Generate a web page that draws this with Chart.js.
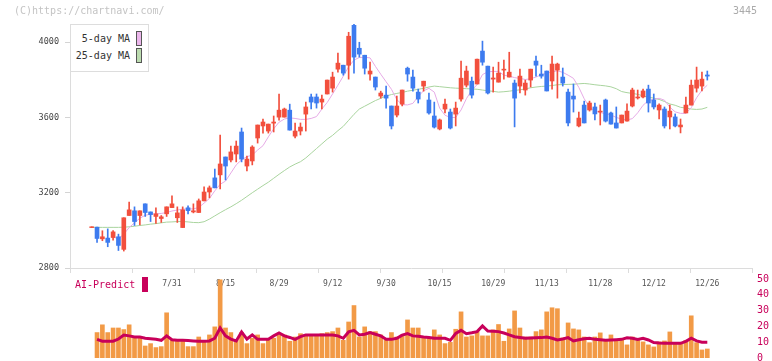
<!DOCTYPE html>
<html>
<head>
<meta charset="utf-8">
<title>3445</title>
<script src="https://cdn.jsdelivr.net/npm/chart.js@4.4.1/dist/chart.umd.min.js"></script>
<style>
    body { margin: 0; width: 772px; height: 361px; overflow: hidden; background: #fff; position: relative; font-family: 'DejaVu Sans Mono', monospace; }
    #priceChart { position: absolute; left: 0; top: 0; }
    #predictChart { position: absolute; left: 0; top: 268px; }
    .copyright { position: absolute; left: 14px; top: 5px; font-size: 10px; line-height: 12px; color: #c4c4c4; }
    .code { position: absolute; left: 733px; top: 5px; font-size: 10px; line-height: 12px; color: #aaa; }
    .legend { position: absolute; left: 70px; top: 24px; width: 77px; height: 46px; border: 1px solid #ddd; background: #fff; font-size: 10px; line-height: 12px; color: #333; }
    .legend .txt { position: absolute; left: 0; width: 59px; text-align: right; }
    .legend .box { position: absolute; left: 65px; width: 4px; height: 13px; border: 1px solid #555; }
    .ai-label { position: absolute; left: 75px; top: 279px; font-size: 10px; line-height: 12px; color: #c8005a; }
    .ai-box { position: absolute; left: 142px; top: 277px; width: 6px; height: 15px; background: #c8005a; }
</style>
</head>
<body>
<canvas id="priceChart" width="772" height="300"></canvas>
<canvas id="predictChart" width="772" height="101"></canvas>
<div class="copyright">(C)https://chartnavi.com/</div>
<div class="code">3445</div>
<div class="legend">
    <div class="txt" style="top:8px">5-day MA</div><div class="box" style="top:6px;background:#ebb6eb"></div>
    <div class="txt" style="top:25px">25-day MA</div><div class="box" style="top:23px;background:#bcdcb0"></div>
</div>
<div class="ai-label">AI-Predict</div>
<div class="ai-box"></div>

<script>
// date labels sit on every 10th candle
const dateLabels = ['7/31', '8/15', '8/29', '9/12', '9/30', '10/15', '10/29', '11/13', '11/28', '12/12', '12/26'];
const dateIndex = [15, 25, 35, 45, 55, 65, 75, 85, 95, 105, 115];

const opens = [
    3015, 3017, 2955, 2959, 2962, 2966, 2899, 3079, 3104, 3079,
    3141, 3098, 3074, 3063, 3088, 3121, 3067, 3015, 3120, 3098,
    3095, 3157, 3204, 3279, 3295, 3390, 3374, 3406, 3523, 3342,
    3369, 3491, 3555, 3528, 3570, 3602, 3602, 3639, 3501, 3528,
    3618, 3709, 3709, 3682, 3725, 3756, 3857, 3878, 3878, 4090,
    3968, 3931, 3831, 3815, 3714, 3719, 3661, 3613, 3671, 3862,
    3815, 3735, 3767, 3693, 3608, 3539, 3645, 3629, 3618, 3698,
    3772, 3793, 3778, 3953, 3873, 3804, 3788, 3852, 3815, 3783,
    3767, 3746, 3799, 3900, 3831, 3847, 3794, 3852, 3815, 3735,
    3714, 3555, 3666, 3640, 3656, 3629, 3693, 3624, 3571, 3571,
    3581, 3661, 3704, 3709, 3751, 3693, 3640, 3645, 3603, 3603,
    3550, 3624, 3666, 3756, 3767, 3826
];
const highs = [
    3019, 3017, 2998, 3008, 2999, 2980, 3067, 3151, 3125, 3104,
    3141, 3098, 3120, 3079, 3125, 3183, 3125, 3125, 3130, 3141,
    3167, 3231, 3236, 3326, 3507, 3390, 3448, 3475, 3544, 3395,
    3450, 3560, 3592, 3565, 3608, 3724, 3650, 3671, 3570, 3571,
    3682, 3725, 3725, 3719, 3799, 3841, 3942, 3878, 4053, 4096,
    4000, 3931, 3894, 3815, 3740, 3767, 3661, 3714, 3746, 3868,
    3852, 3751, 3793, 3730, 3682, 3592, 3698, 3645, 3682, 3900,
    3873, 3815, 3910, 4006, 3873, 3868, 3894, 3905, 3947, 3799,
    3857, 3799, 3857, 3926, 3878, 3847, 3926, 3889, 3863, 3751,
    3778, 3629, 3687, 3687, 3677, 3666, 3698, 3629, 3656, 3613,
    3672, 3756, 3746, 3751, 3772, 3725, 3672, 3656, 3666, 3619,
    3592, 3709, 3799, 3868, 3841, 3847
];
const lows = [
    3015, 2936, 2945, 2913, 2948, 2893, 2890, 3079, 3026, 3029,
    3074, 3047, 3037, 3042, 3074, 3121, 3042, 3015, 3088, 3093,
    3095, 3157, 3173, 3226, 3220, 3268, 3364, 3364, 3364, 3316,
    3348, 3464, 3517, 3517, 3523, 3586, 3602, 3533, 3491, 3507,
    3528, 3645, 3650, 3645, 3725, 3735, 3841, 3825, 3804, 3836,
    3921, 3831, 3799, 3746, 3703, 3650, 3539, 3603, 3661, 3793,
    3740, 3677, 3740, 3618, 3544, 3534, 3624, 3539, 3555, 3687,
    3762, 3703, 3778, 3878, 3725, 3735, 3788, 3804, 3815, 3550,
    3730, 3719, 3762, 3820, 3809, 3741, 3751, 3703, 3767, 3555,
    3629, 3550, 3571, 3634, 3587, 3560, 3576, 3565, 3544, 3571,
    3581, 3656, 3698, 3704, 3629, 3645, 3592, 3544, 3539, 3550,
    3518, 3624, 3666, 3735, 3741, 3799
];
const closes = [
    3019, 2957, 2966, 2936, 2992, 2920, 3067, 3109, 3047, 3104,
    3095, 3084, 3088, 3072, 3125, 3141, 3093, 3109, 3105, 3104,
    3157, 3204, 3226, 3226, 3353, 3342, 3417, 3448, 3379, 3379,
    3443, 3560, 3576, 3565, 3576, 3639, 3645, 3533, 3528, 3549,
    3656, 3682, 3677, 3698, 3799, 3815, 3889, 3836, 4032, 3921,
    3937, 3862, 3847, 3762, 3730, 3703, 3555, 3661, 3746, 3831,
    3756, 3698, 3793, 3624, 3549, 3587, 3671, 3544, 3650, 3809,
    3847, 3719, 3910, 3894, 3730, 3810, 3836, 3857, 3841, 3703,
    3820, 3783, 3857, 3878, 3820, 3741, 3884, 3884, 3783, 3571,
    3698, 3597, 3571, 3677, 3619, 3634, 3581, 3565, 3544, 3613,
    3634, 3746, 3709, 3741, 3677, 3656, 3666, 3555, 3634, 3555,
    3560, 3666, 3772, 3799, 3804, 3820
];
const ma5 = [
    null, null, null, null, 2965, 2955, 2980, 3015, 3040, 3065,
    3080, 3086, 3088, 3090, 3095, 3103, 3108, 3113, 3114, 3114,
    3122, 3145, 3170, 3210, 3245, 3262, 3305, 3348, 3375, 3392,
    3400, 3427, 3450, 3497, 3540, 3575, 3592, 3598, 3595, 3590,
    3590, 3595, 3605, 3645, 3680, 3725, 3772, 3820, 3870, 3905,
    3919, 3920, 3917, 3872, 3830, 3790, 3750, 3695, 3668, 3667,
    3675, 3712, 3742, 3755, 3735, 3650, 3612, 3600, 3600, 3640,
    3700, 3745, 3775, 3828, 3843, 3845, 3845, 3825, 3820, 3812,
    3808, 3802, 3806, 3815, 3828, 3834, 3843, 3848, 3840, 3825,
    3808, 3760, 3700, 3655, 3635, 3626, 3620, 3614, 3600, 3592,
    3587, 3594, 3625, 3665, 3690, 3696, 3702, 3692, 3655, 3630,
    3622, 3622, 3652, 3705, 3745, 3772
];
const ma25 = [
    3017, 3016, 3016, 3016, 3016, 3016, 3017, 3019, 3022, 3026,
    3029, 3033, 3036, 3040, 3044, 3045, 3047, 3047, 3045, 3042,
    3041, 3046, 3060, 3077, 3094, 3110, 3125, 3142, 3160, 3180,
    3200, 3219, 3238, 3256, 3277, 3298, 3318, 3337, 3352, 3365,
    3385, 3410, 3435, 3460, 3485, 3505, 3530, 3553, 3585, 3617,
    3645, 3660, 3675, 3690, 3702, 3714, 3722, 3728, 3733, 3740,
    3745, 3750, 3755, 3762, 3767, 3764, 3761, 3758, 3756, 3755,
    3753, 3752, 3750, 3746, 3742, 3739, 3735, 3737, 3740, 3744,
    3747, 3752, 3758, 3762, 3765, 3767, 3770, 3774, 3775, 3776,
    3777, 3779, 3781, 3778, 3774, 3771, 3768, 3763, 3753, 3738,
    3732, 3728, 3723, 3715, 3708, 3703, 3696, 3685, 3672, 3665,
    3654, 3650, 3645, 3643, 3645, 3654
];
const volume = [
    null, 16.1, 21.0, 16.1, 19.0, 19.0, 18.0, 21.0, 13.3, 12.5,
    7.6, 9.1, 6.6, 7.2, 28.6, 11.2, 10.6, 11.2, 7.2, 7.2,
    13.3, 10.6, 14.6, 19.7, 49.5, 19.0, 16.1, 11.2, 16.1, 9.1,
    12.5, 14.6, 9.1, 11.2, 12.5, 14.6, 14.6, 10.6, 13.3, 15.4,
    14.6, 14.6, 14.6, 15.4, 16.1, 16.7, 19.0, 11.2, 22.8, 33.2,
    13.3, 19.7, 16.7, 16.7, 14.6, 11.2, 16.1, 13.3, 14.6, 24.1,
    19.0, 19.0, 13.3, 12.5, 17.8, 14.6, 9.1, 9.9, 18.2, 29.2,
    13.3, 14.0, 16.7, 14.0, 14.0, 17.8, 21.2, 10.6, 18.4, 29.8,
    19.0, 13.3, 13.3, 16.7, 17.8, 29.2, 31.8, 31.2, 12.7, 22.2,
    18.4, 17.8, 13.3, 9.7, 13.3, 15.9, 10.6, 14.6, 11.6, 11.6,
    8.3, 13.3, 11.6, 10.2, 8.3, 7.0, 10.2, 10.8, 16.5, 8.9,
    8.9, 11.2, 26.7, 9.7, 5.1, 5.7
];
const aiPredict = [
    null, 11.8, 10.6, 10.6, 10.6, 12.0, 14.5, 14.0, 13.3, 13.3,
    12.5, 12.2, 11.8, 11.2, 14.0, 11.5, 11.2, 11.2, 11.0, 10.8,
    10.6, 10.6, 10.8, 12.5, 19.0, 14.0, 12.0, 10.8, 16.5, 12.0,
    14.6, 11.8, 11.8, 11.8, 14.0, 15.8, 14.0, 13.0, 11.8, 13.5,
    14.6, 14.6, 14.6, 14.6, 14.6, 14.6, 14.0, 12.5, 16.5, 17.5,
    14.6, 15.0, 16.1, 15.0, 14.0, 11.8, 11.8, 12.5, 14.5, 15.4,
    14.0, 13.8, 13.3, 13.0, 12.5, 12.5, 12.5, 11.2, 15.5, 17.5,
    15.4, 16.0, 16.7, 20.3, 17.1, 17.0, 16.7, 15.8, 14.6, 13.5,
    13.0, 12.5, 12.7, 12.8, 12.9, 13.3, 12.5, 11.4, 12.0, 12.9,
    10.8, 11.6, 12.2, 12.5, 11.8, 11.5, 11.2, 11.4, 11.6, 11.8,
    12.8, 12.5, 11.8, 12.5, 11.4, 9.8, 9.5, 9.3, 9.3, 9.3,
    9.3, 10.5, 12.5, 10.8, 10.0, 10.0
];
const priceTicks = [2800, 3200, 3600, 4000];
const predictTicks = [0, 10, 20, 30, 40, 50];

document.addEventListener('DOMContentLoaded', function () {
    Chart.defaults.font.family = "'DejaVu Sans Mono', monospace";

    const upColor = '#f24f3d';
    const downColor = '#3d7bef';
    const crimson = '#c8005a';
    const xMin = -4.05;
    const xMax = 123.35;
    // 11 even gaps for the axis marks
    const markTicks = [];
    for (let j = 0; j <= 11; j++) markTicks.push(xMin + j * (xMax - xMin) / 11);

    const candleColors = closes.map((c, i) => c >= opens[i] ? upColor : downColor);
    const xy = arr => arr.map((v, i) => ({ x: i, y: v }));

    new Chart(document.getElementById('priceChart'), {
        type: 'bar',
        data: {
            datasets: [
                { type: 'line', label: '5-day MA', data: xy(ma5), borderColor: '#e6aae6', borderWidth: 1, pointRadius: 0, tension: 0, order: 3 },
                { type: 'line', label: '25-day MA', data: xy(ma25), borderColor: '#a9d49e', borderWidth: 1, pointRadius: 0, tension: 0, order: 3 },
                { label: 'wick', data: highs.map((h, i) => ({ x: i, y: [lows[i], h] })), backgroundColor: candleColors, barThickness: 1, grouped: false, order: 2 },
                { label: 'body', data: opens.map((o, i) => ({ x: i, y: [o, closes[i]] })), backgroundColor: candleColors, barThickness: 4, grouped: false, order: 1 }
            ]
        },
        options: {
            responsive: false,
            animation: false,
            layout: { padding: { top: 24, right: 20, left: 0, bottom: 0 } },
            plugins: { legend: { display: false }, tooltip: { enabled: false } },
            scales: {
                x: {
                    type: 'linear', min: xMin, max: xMax, offset: false,
                    afterBuildTicks: s => { s.ticks = markTicks.map(v => ({ value: v })); },
                    afterFit: s => { s.height = 6; },
                    ticks: { display: false },
                    grid: { drawOnChartArea: false, tickLength: 5, color: '#dcdcdc', offset: false },
                    border: { color: '#dcdcdc' }
                },
                dates: {
                    type: 'linear', position: 'bottom', axis: 'x', weight: 1, min: xMin, max: xMax, offset: false,
                    afterBuildTicks: s => { s.ticks = dateIndex.map(v => ({ value: v })); },
                    afterFit: s => { s.height = 26; },
                    ticks: { callback: (v, i) => dateLabels[i], autoSkip: false, maxRotation: 0, padding: 5, color: '#555', font: { size: 8 } },
                    grid: { display: false, drawTicks: false },
                    border: { display: false }
                },
                y: {
                    min: 2800, max: 4097,
                    afterBuildTicks: s => { s.ticks = priceTicks.map(v => ({ value: v })); },
                    afterFit: s => { s.width = 70; },
                    ticks: { callback: v => String(v), padding: 6, color: '#444', font: { size: 8.5 } },
                    grid: { drawOnChartArea: false, tickLength: 5, color: '#d4d4d4' },
                    border: { color: '#dcdcdc' }
                }
            }
        }
    });

    new Chart(document.getElementById('predictChart'), {
        type: 'bar',
        data: {
            datasets: [
                { type: 'line', label: 'AI-Predict', data: xy(aiPredict), borderColor: crimson, borderWidth: 3, pointRadius: 0, tension: 0, order: 1 },
                { label: 'volume', data: xy(volume), backgroundColor: '#f29a46', barThickness: 4, grouped: false, order: 2 }
            ]
        },
        options: {
            responsive: false,
            animation: false,
            // the tick labels add 11px top and bottom, so the plot runs 279..358
            layout: { padding: { top: 0, right: 0, left: 70, bottom: 0 } },
            plugins: { legend: { display: false }, tooltip: { enabled: false } },
            scales: {
                x: { type: 'linear', min: xMin, max: xMax, offset: false, display: false },
                y: {
                    position: 'right', min: 0, max: 50,
                    afterBuildTicks: s => { s.ticks = predictTicks.map(v => ({ value: v })); },
                    afterFit: s => { s.width = 20; },
                    ticks: { callback: v => String(v), padding: 5, color: crimson, font: { size: 10 } },
                    grid: { display: false, drawTicks: false },
                    border: { display: false }
                }
            }
        }
    });
});
</script>
</body>
</html>
